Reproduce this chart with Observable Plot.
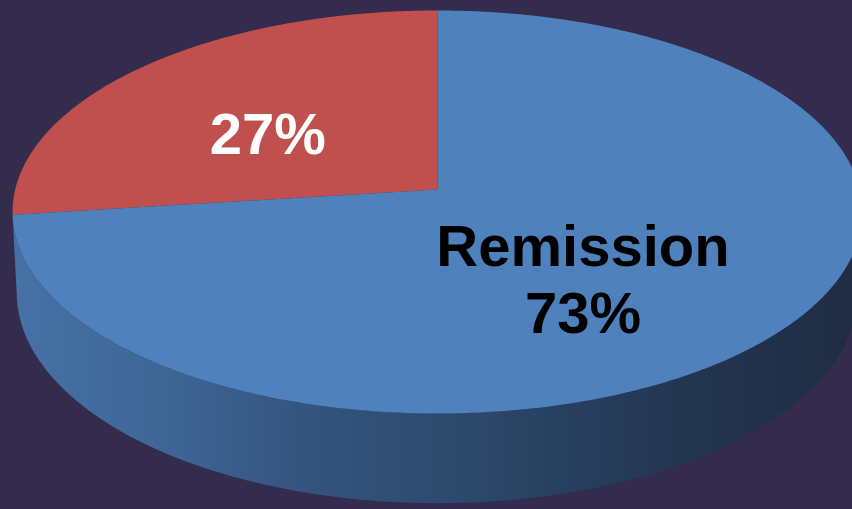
<!DOCTYPE html>
<html><head><meta charset="utf-8">
<script src="https://cdn.jsdelivr.net/npm/d3@7"></script>
<script src="https://cdn.jsdelivr.net/npm/@observablehq/plot@0.6"></script>
<style>
html,body{margin:0;padding:0;background:#342c4c;overflow:hidden}
#chart svg{display:block;background:#342c4c}
</style>
</head><body><div id="chart"></div>
<script>
// ---- data ----
const categories = ["Other", "Remission"];
const values = [27, 73];
const labels = ["27%", "Remission\n73%"];
const colors = ["#c0504d", "#4f81bd"];
const labelColors = ["#ffffff", "#000000"];

// ---- 3D perspective pie geometry (model units) ----
const K = 0.1117;          // perspective strength
const DEPTH = 0.40;        // thickness of the pie
const SHRINK = 0.99;       // bottom face slightly smaller (farther from viewer)
const START = Math.PI / 2; // first slice starts at the back (12 o'clock)
const TAU = 2 * Math.PI;

function proj(theta, r = 1, drop = 0) {
  const u = r * Math.cos(theta), v = r * Math.sin(theta);
  const w = 1 + K * v;
  const sx = drop ? SHRINK : 1;
  return {x: sx * u / w, y: (v - drop) / w};
}
function arc(t0, t1, drop = 0) {
  const n = Math.max(2, Math.ceil(Math.abs(t1 - t0) / (Math.PI / 360)));
  return d3.range(n + 1).map(j => proj(t0 + (t1 - t0) * j / n, 1, drop));
}

const total = d3.sum(values);
let acc = 0;
const slices = values.map((v, i) => {
  const t0 = START + acc / total * TAU; acc += v;
  const t1 = START + acc / total * TAU;
  return {i, t0, t1, mid: (t0 + t1) / 2};
});

// visible (front) part of the side wall
const thL = Math.PI + Math.asin(K), thR = TAU - Math.asin(K);
const sides = [];
for (const s of slices) {
  for (const off of [-TAU, 0, TAU]) {
    const a = Math.max(s.t0, thL + off), b = Math.min(s.t1, thR + off);
    if (b - a > Math.PI / 90) {
      sides.push({i: s.i, pts: [...arc(a, b, 0), ...arc(b, a, DEPTH)]});
    }
  }
}
const tops = slices.map(s => ({i: s.i, pts: [{x: 0, y: 0}, ...arc(s.t0, s.t1, 0), {x: 0, y: 0}]}));
const labelPts = slices.map(s => ({...proj(s.mid, 0.5), text: labels[s.i], i: s.i}));

const marks = [];
for (const s of sides) marks.push(Plot.line(s.pts, {x: "x", y: "y", fill: `url(#side${s.i})`, stroke: "none"}));
for (const t of tops) marks.push(Plot.line(t.pts, {x: "x", y: "y", fill: colors[t.i], stroke: "none"}));
marks.push(Plot.text([labelPts[0]], {x: "x", y: "y", text: "text", fill: labelColors[0], dx: -17, dy: 9,
  fontSize: 58, fontWeight: "bold", fontFamily: "Liberation Sans, Arial, sans-serif"}));
marks.push(Plot.text([labelPts[1]], {x: "x", y: "y", text: "text", fill: labelColors[1], dx: -19, dy: 20,
  fontSize: 58, fontWeight: "bold", lineHeight: 1.17, fontFamily: "Liberation Sans, Arial, sans-serif"}));

const chart = Plot.plot({
  width: 852, height: 509,
  margin: 0,
  x: {domain: [-1.0348, 0.9827], axis: null},
  y: {domain: [-1.608, 0.9497], axis: null},
  style: {background: "#342c4c", overflow: "visible"},
  marks
});

// gradients for side walls (dark toward the right)
const svg = d3.select(chart);
const defs = svg.insert("defs", ":first-child");
const gradStops = [
  [["0", "#4673a8"], ["0.2", "#3e6594"], ["0.35", "#34557f"], ["0.53", "#2d4a6d"], ["0.7", "#263d5c"], ["0.82", "#23354f"], ["1", "#1f2c44"]],
  [["0", "#8a3a38"], ["1", "#4a2030"]]
];
slices.forEach(s => {
  const stops = s.i === 1 ? gradStops[0] : gradStops[1];
  const g = defs.append("linearGradient").attr("id", `side${s.i}`)
    .attr("gradientUnits", "userSpaceOnUse").attr("x1", 0).attr("x2", 852).attr("y1", 0).attr("y2", 0);
  stops.forEach(([o, c]) => g.append("stop").attr("offset", o).attr("stop-color", c));
});

document.getElementById("chart").appendChild(chart);
</script>
</body></html>
